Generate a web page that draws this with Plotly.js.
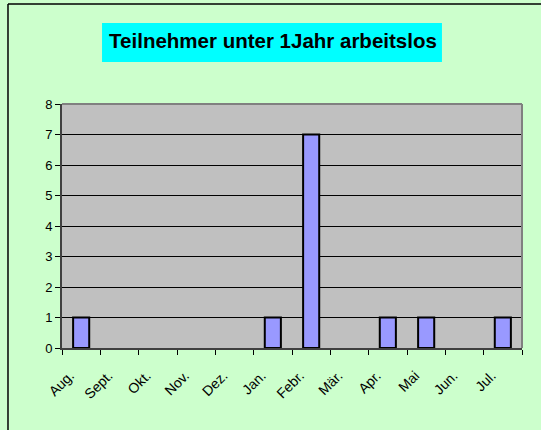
<!DOCTYPE html>
<html>
<head>
<meta charset="utf-8">
<script src="https://cdn.plot.ly/plotly-3.0.1.min.js"></script>
<style>
html,body{margin:0;padding:0;background:#CCFFCC;}
#chart{width:541px;height:430px;}
</style>
</head>
<body>
<div id="chart"></div>
<script>
const months = ["Aug.", "Sept.", "Okt.", "Nov.", "Dez.", "Jan.", "Febr.", "Mär.", "Apr.", "Mai", "Jun.", "Jul."];
const teilnehmer = [1, 0, 0, 0, 0, 1, 7, 0, 1, 1, 0, 1];
const yTicks = [0, 1, 2, 3, 4, 5, 6, 7, 8];
const chartTitle = "Teilnehmer unter 1Jahr arbeitslos";

const trace = {
  type: "bar",
  x: months,
  y: teilnehmer,
  marker: {color: "#9999FF", line: {color: "#000000", width: teilnehmer.map(v => v ? 2 : 0)}},
  hoverinfo: "x+y"
};

const layout = {
  width: 541,
  height: 430,
  paper_bgcolor: "#CCFFCC",
  plot_bgcolor: "#C0C0C0",
  margin: {l: 62, r: 19, t: 104, b: 82, pad: 0},
  showlegend: false,
  bargap: 0.58,
  font: {family: "Liberation Sans, Arial, sans-serif", size: 13, color: "#000"},
  title: {
    text: "<b>" + chartTitle + "</b>",
    font: {family: "Liberation Sans, Arial, sans-serif", size: 20.5, color: "#000"},
    xref: "container", x: 0.5046, xanchor: "center",
    yref: "container", y: 0.905, yanchor: "middle"
  },
  xaxis: {
    type: "category",
    tickson: "boundaries",
    ticks: "outside", ticklen: 5, tickcolor: "#000", tickwidth: 1,
    tickangle: -45,
    tickfont: {size: 14},
    ticklabelstandoff: 12,
    ticklabelshift: -11,
    showline: true, linecolor: "#404040", linewidth: 2,
    showgrid: false, zeroline: false,
    fixedrange: true
  },
  yaxis: {
    range: [0, 8],
    tickvals: yTicks,
    ticks: "outside", ticklen: 5, tickcolor: "#000", tickwidth: 1,
    tickfont: {size: 13},
    showline: true, linecolor: "#404040", linewidth: 2,
    showgrid: true, gridcolor: "#000000", gridwidth: 1,
    zeroline: false,
    fixedrange: true
  },
  shapes: [
    {type: "rect", xref: "paper", yref: "paper", x0: 0.087, x1: 0.826, y0: 1.172, y1: 1.332,
     fillcolor: "#00FFFF", line: {width: 0}, layer: "below"},
    {type: "line", xref: "paper", yref: "paper", x0: 1, x1: 1, y0: 0, y1: 1,
     line: {color: "#808080", width: 2}},
    {type: "line", xref: "paper", yref: "paper", x0: 0, x1: 1, y0: 1, y1: 1,
     line: {color: "#808080", width: 2}},
    {type: "line", xref: "paper", yref: "paper", x0: -0.1174, x1: 1.1, y0: 1.4098, y1: 1.4098,
     line: {color: "#000", width: 1.5}},
    {type: "line", xref: "paper", yref: "paper", x0: -0.1174, x1: -0.1174, y0: -0.4, y1: 1.4098,
     line: {color: "#000", width: 1.5}}
  ]
};

Plotly.newPlot("chart", [trace], layout, {displayModeBar: false, staticPlot: true});
</script>
</body>
</html>
